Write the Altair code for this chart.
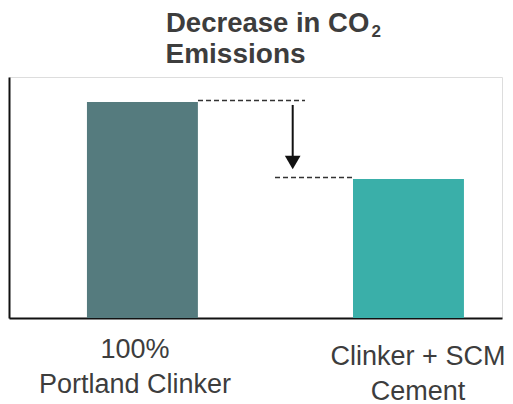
import altair as alt
import pandas as pd

# Bar data
categories = ["100%\nPortland Clinker", "Clinker + SCM\nCement"]
emissions = [89.6, 57.7]
bar_colors = ["#557b7e", "#3aafa9"]

# Arrow showing the drop between the two bars
arrow_from = [88.4]
arrow_head = [64.5]

FONT = "Liberation Sans"
TEXT_COLOR = "#3d3d3d"

bars_df = pd.DataFrame({"category": categories, "value": emissions})
one = pd.DataFrame({"k": [0]})

x_scale = alt.Scale(domain=categories, paddingInner=0.583, paddingOuter=0.218, align=0.672)
y_scale = alt.Scale(domain=[0, 100], nice=False, zero=True)

x_axis = alt.Axis(labels=False, ticks=False, title=None, grid=False,
                  domainColor="#111111", domainWidth=2)
y_axis = alt.Axis(labels=False, ticks=False, title=None, grid=False,
                  domainColor="#111111", domainWidth=2)

bars = alt.Chart(bars_df).mark_bar().encode(
    x=alt.X("category:N", scale=x_scale, axis=x_axis, sort=categories),
    y=alt.Y("value:Q", scale=y_scale, axis=y_axis),
    color=alt.Color("category:N", scale=alt.Scale(domain=categories, range=bar_colors), legend=None),
)

# Dashed guide lines at each bar's height
dash_top = alt.Chart(pd.DataFrame({"v": [emissions[0]]})).mark_rule(
    strokeDash=[5, 3], strokeWidth=1.4, color="#333333", yOffset=-1.5
).encode(x=alt.value(189), x2=alt.value(296), y=alt.Y("v:Q", scale=y_scale))

dash_bottom = alt.Chart(pd.DataFrame({"v": [emissions[1]]})).mark_rule(
    strokeDash=[5, 3], strokeWidth=1.4, color="#333333", yOffset=-1.5
).encode(x=alt.value(266), x2=alt.value(344), y=alt.Y("v:Q", scale=y_scale))

arrow_df = pd.DataFrame({"a": arrow_from, "b": arrow_head})
arrow_shaft = alt.Chart(arrow_df).mark_rule(strokeWidth=2, color="#111111").encode(
    x=alt.value(283.7), y=alt.Y("a:Q", scale=y_scale), y2="b:Q"
)
arrow_tip = alt.Chart(arrow_df).mark_point(
    shape="triangle-down", filled=True, size=246, color="#111111", opacity=1
).encode(x=alt.value(283.7), y=alt.Y("b:Q", scale=y_scale))

# Category labels under the axis
label_layers = []
label_style = [(-7.5, 281), (9.5, 288)]
for cat, (dx, y) in zip(categories, label_style):
    label_layers.append(
        alt.Chart(pd.DataFrame({"category": [cat]})).mark_text(
            font=FONT, fontSize=27, color=TEXT_COLOR, align="center",
            baseline="alphabetic", lineBreak="\n", lineHeight=35, dx=dx
        ).encode(
            x=alt.X("category:N", scale=x_scale),
            y=alt.value(y),
            text="category:N",
        )
    )

# Title drawn as text so the subscript can be placed
title_main = alt.Chart(one).mark_text(
    font=FONT, fontSize=27.5, fontWeight="bold", color=TEXT_COLOR,
    align="left", baseline="alphabetic"
).encode(x=alt.value(157), y=alt.value(-44.7), text=alt.value("Decrease in CO"))

title_sub = alt.Chart(one).mark_text(
    font=FONT, fontSize=17, fontWeight="bold", color=TEXT_COLOR,
    align="left", baseline="alphabetic"
).encode(x=alt.value(362.5), y=alt.value(-40.3), text=alt.value("2"))

title_line2 = alt.Chart(one).mark_text(
    font=FONT, fontSize=28, fontWeight="bold", color=TEXT_COLOR,
    align="left", baseline="alphabetic"
).encode(x=alt.value(156.5), y=alt.value(-14), text=alt.value("Emissions"))

chart = alt.layer(
    bars, dash_top, dash_bottom, arrow_shaft, arrow_tip,
    *label_layers, title_main, title_sub, title_line2
).properties(
    width=493, height=241,
    autosize=alt.AutoSizeParams(type="none"),
    padding={"left": 9, "top": 77, "right": 11, "bottom": 86},
).configure_view(stroke=None).configure(background="white")

chart.save("out.html", embed_options={"renderer": "svg", "actions": False})
